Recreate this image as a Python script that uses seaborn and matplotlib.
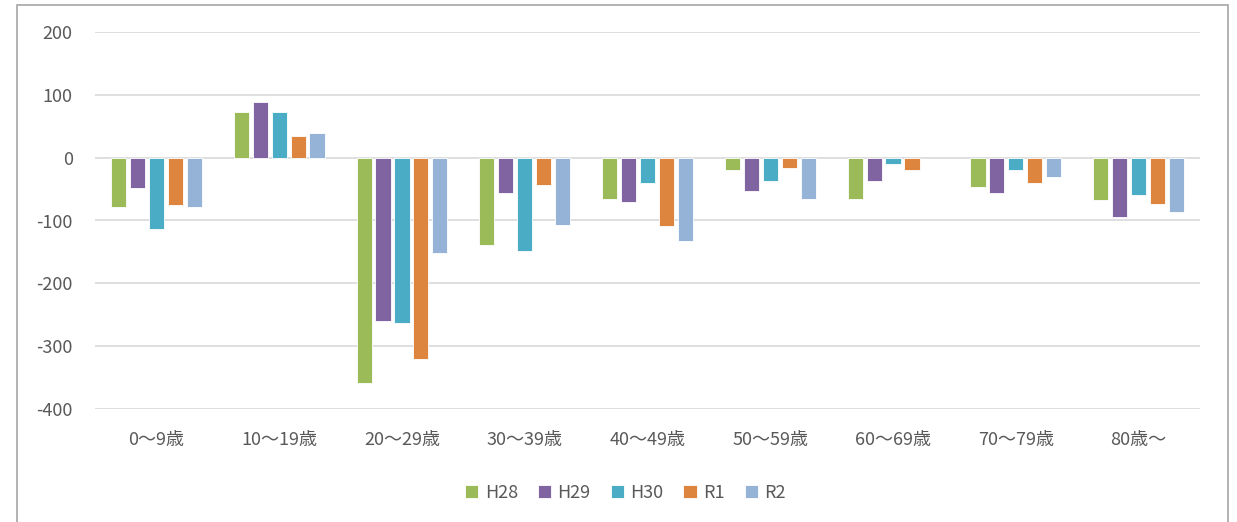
import numpy as np
import pandas as pd
import matplotlib
matplotlib.use("Agg")
import matplotlib.pyplot as plt
import seaborn as sns
from matplotlib.patches import Rectangle

categories = ["0～9歳", "10～19歳", "20～29歳", "30～39歳", "40～49歳",
              "50～59歳", "60～69歳", "70～79歳", "80歳～"]
series_names = ["H28", "H29", "H30", "R1", "R2"]
h28 = [-79, 73, -359, -139, -65, -19, -65, -47, -68]
h29 = [-49, 88, -260, -56, -71, -53, -37, -56, -95]
h30 = [-114, 73, -263, -148, -41, -37, -10, -19, -59]
r1 = [-76, 34, -320, -43, -108, -16, -19, -41, -74]
r2 = [-79, 40, -152, -107, -132, -65, np.nan, -31, -86]
yticks = [200, 100, 0, -100, -200, -300, -400]

colors = ["#9BBB59", "#8064A2", "#4BACC6", "#DD843E", "#95B3D7"]

rows = []
for name, vals in zip(series_names, [h28, h29, h30, r1, r2]):
    for c, v in zip(categories, vals):
        rows.append({"age": c, "year": name, "value": v})
df = pd.DataFrame(rows)

sns.set_theme(style="white")
plt.rcParams['font.family'] = ['Noto Sans CJK JP', 'DejaVu Sans']
plt.rcParams['axes.unicode_minus'] = False

fig = plt.figure(figsize=(12.37, 5.22), dpi=100)
ax = fig.add_axes([95/1237, 1 - 409/522, (1200 - 95)/1237, (409 - 32)/522])

sns.barplot(data=df, x="age", y="value", hue="year", order=categories,
            hue_order=series_names, palette=colors, width=0.77, gap=0.2,
            ax=ax, errorbar=None, saturation=1, edgecolor="white", linewidth=0.6)

ax.set_ylim(-400, 200)
ax.set_yticks(yticks)
ax.set_xlim(-0.5, len(categories) - 0.5)
ax.yaxis.grid(True, color="#D9D9D9", linewidth=1.2)
ax.set_axisbelow(True)
for s in ax.spines.values():
    s.set_visible(False)
ax.set_xlabel("")
ax.set_ylabel("")
ax.tick_params(axis="y", length=0, pad=16, labelsize=13, labelcolor="#595959")
ax.tick_params(axis="x", length=0, pad=16, labelsize=13, labelcolor="#595959")

leg = ax.legend(loc="upper center", bbox_to_anchor=(0.48, -0.155), ncol=5, frameon=False,
                fontsize=13, handlelength=0.75, handleheight=0.75, handletextpad=0.35,
                columnspacing=1.1)
for t in leg.get_texts():
    t.set_color("#595959")

fig.patches.append(Rectangle((17/1237, -0.05), (1228 - 17)/1237, 1.05 - 5/522,
                             transform=fig.transFigure, fill=False,
                             edgecolor="#A6A6A6", linewidth=1.2))

fig.savefig("out.png", dpi=100, facecolor="white")
